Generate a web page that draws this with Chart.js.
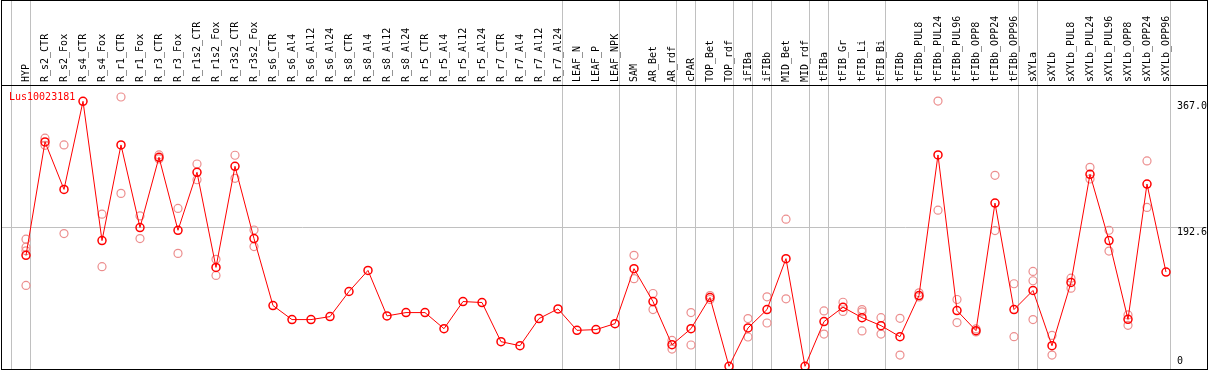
<!DOCTYPE html>
<html><head><meta charset="utf-8">
<script src="https://cdn.jsdelivr.net/npm/chart.js@4"></script>
<style>html,body{margin:0;padding:0;background:#fff;overflow:hidden}#wrap{width:1209px;height:370px;position:relative}canvas{display:block}</style>
</head><body><div id="wrap"><canvas id="c" width="1209" height="370"></canvas></div>
<script>
const geneId = 'Lus10023181';
const categories = ['HYP','R_s2_CTR','R_s2_Fox','R_s4_CTR','R_s4_Fox','R_r1_CTR','R_r1_Fox','R_r3_CTR','R_r3_Fox','R_r1s2_CTR','R_r1s2_Fox','R_r3s2_CTR','R_r3s2_Fox','R_s6_CTR','R_s6_Al4','R_s6_Al12','R_s6_Al24','R_s8_CTR','R_s8_Al4','R_s8_Al12','R_s8_Al24','R_r5_CTR','R_r5_Al4','R_r5_Al12','R_r5_Al24','R_r7_CTR','R_r7_Al4','R_r7_Al12','R_r7_Al24','LEAF_N','LEAF_P','LEAF_NPK','SAM','AR_Bet','AR_rdf','cPAR','TOP_Bet','TOP_rdf','iFIBa','iFIBb','MID_Bet','MID_rdf','tFIBa','tFIB_Gr','tFIB_Li','tFIB_Bi','tFIBb','tFIBb_PUL8','tFIBb_PUL24','tFIBb_PUL96','tFIBb_OPP8','tFIBb_OPP24','tFIBb_OPP96','sXYLa','sXYLb','sXYLb_PUL8','sXYLb_PUL24','sXYLb_PUL96','sXYLb_OPP8','sXYLb_OPP24','sXYLb_OPP96'];
const means = [153.7,310.8,245,367.0,174.1,306.6,192.2,289.5,188.4,268.7,137,277,176.9,84.1,64.7,64.7,68.8,103.6,132.8,69.8,74.4,74.4,52.1,89.7,88.3,34.1,28.5,66.1,79.5,49.8,50.8,59.1,135.2,89.7,29.9,52.1,95.3,0,53.1,78.6,149.1,0,61.9,81.8,67.4,56.3,41,98,292.7,77.2,49.4,226,78.6,105,28.5,116.1,265.9,174.1,65.1,252.4,130.5];
const replicates = [
  [176,165,160,112],[316,306],[306.6,183.8],[],[210.7,138],[373,239.5],[208.3,176.9],[292.7,287.2],[218.6,156.4],[280.2,258.4],[148.1,125.9],[292.3,260.3],[188.8,165.8],
  [],[],[],[],[],[],[],[],[],[],[],[],[],[],[],[],[],[],[],
  [153.7,121.3],[100.8,78.6],[35.9,23.9],[74.4,29.5],[98,92.5],[],[66.1,40.6],[96.2,60],[203.7,93.4],[],
  [76.7,44.7],[88.7,76],[78.6,75.4,49],[67.4,44.7],[66.5,15.6],[101.8,96],[367.4,216.2],[92.5,60.5],[51.7,47.6],[264.5,188],[114.3,41],
  [131.4,118.5,64.7],[42.8,15.6],[122.1,108.2],[275.6,259.4],[188.4,159.6],[71.2,56.7],[284.4,220],[]
];
const yTickValues = [0, 192.6, 367.0];
const separatorAfter = [-1, 0, 28, 31, 34, 35, 37, 38, 39, 41, 42, 45, 52, 53, 60];

const mainPts = means.map((v, i) => ({x: i, y: v}));
const repPts = [];
replicates.forEach((arr, i) => arr.forEach(v => repPts.push({x: i, y: v})));

const MONO = '"DejaVu Sans Mono", "Liberation Mono", monospace';

const framePlugin = {
  id: 'frame',
  beforeDraw(chart) {
    const {ctx} = chart;
    ctx.save();
    ctx.fillStyle = '#fff';
    ctx.fillRect(0, 0, chart.width, chart.height);
    const xs = chart.scales.x;
    ctx.fillStyle = '#c0c0c0';
    separatorAfter.forEach(i => {
      const px = Math.round(xs.getPixelForValue(i)) + 4;
      ctx.fillRect(px, 0, 1, 369);
    });
    ctx.restore();
  },
  afterDraw(chart) {
    const {ctx, chartArea: a} = chart;
    const L = Math.round(a.left), R = Math.round(a.right), T = Math.round(a.top), B = Math.round(a.bottom);
    ctx.save();
    ctx.fillStyle = '#000';
    ctx.fillRect(L, 0, R - L + 1, 1);
    ctx.fillRect(L, T, R - L + 1, 1);
    ctx.fillRect(L, B, R - L + 1, 1);
    ctx.fillRect(L, 0, 1, B + 1);
    ctx.fillRect(R, 0, 1, B + 1);
    ctx.fillStyle = '#ff0000';
    ctx.font = '10px ' + MONO;
    ctx.textBaseline = 'middle';
    ctx.textAlign = 'left';
    ctx.fillText(chart.data.datasets[0].label, 9, 97);
    ctx.restore();
  }
};

new Chart(document.getElementById('c'), {
  type: 'line',
  data: {
    datasets: [
      {
        label: geneId,
        data: mainPts,
        borderColor: '#ff0000',
        borderWidth: 1,
        tension: 0,
        pointRadius: 4,
        pointBorderWidth: 1.5,
        pointBorderColor: '#ff0000',
        pointBackgroundColor: 'rgba(0,0,0,0)',
        clip: false
      },
      {
        label: 'replicates',
        data: repPts,
        showLine: false,
        pointRadius: 4,
        pointBorderWidth: 1.2,
        pointBorderColor: '#ec8e8e',
        pointBackgroundColor: 'rgba(0,0,0,0)',
        clip: false
      }
    ]
  },
  options: {
    responsive: false,
    animation: false,
    events: [],
    layout: {autoPadding: false, padding: {left: 1, right: 0, top: 0, bottom: 1}},
    plugins: {legend: {display: false}, tooltip: {enabled: false}},
    scales: {
      x: {
        type: 'linear',
        position: 'top',
        min: -1.3158,
        max: 62.158,
        afterBuildTicks: s => { s.ticks = categories.map((_, i) => ({value: i})); },
        afterFit: s => { s.height = 85; s.paddingLeft = 0; s.paddingRight = 0; s.paddingTop = 0; s.paddingBottom = 0; },
        grid: {display: false, drawTicks: false},
        border: {display: false},
        ticks: {
          autoSkip: false,
          minRotation: 90,
          maxRotation: 90,
          padding: 3,
          labelOffset: 12,
          color: '#000',
          font: {family: MONO, size: 10},
          callback: v => categories[v]
        }
      },
      y: {
        type: 'linear',
        position: 'right',
        min: -3.74,
        max: 389.6,
        afterBuildTicks: s => { s.ticks = yTickValues.map(v => ({value: v})); },
        afterFit: s => { s.width = 2; s.paddingTop = 0; s.paddingBottom = 0; s.paddingLeft = 0; s.paddingRight = 0; },
        grid: {
          drawTicks: false,
          lineWidth: 1,
          color: c => (c.tick && Math.abs(c.tick.value - 192.6) < 0.01) ? '#c0c0c0' : 'rgba(0,0,0,0)'
        },
        border: {display: false},
        ticks: {
          mirror: true,
          crossAlign: 'far',
          padding: 0,
          color: '#000',
          font: {family: MONO, size: 10, lineHeight: 1},
          callback: v => v === 0 ? ['0', ''] : ['', v.toFixed(1)]
        }
      }
    }
  },
  plugins: [framePlugin]
});
</script>
</body></html>
